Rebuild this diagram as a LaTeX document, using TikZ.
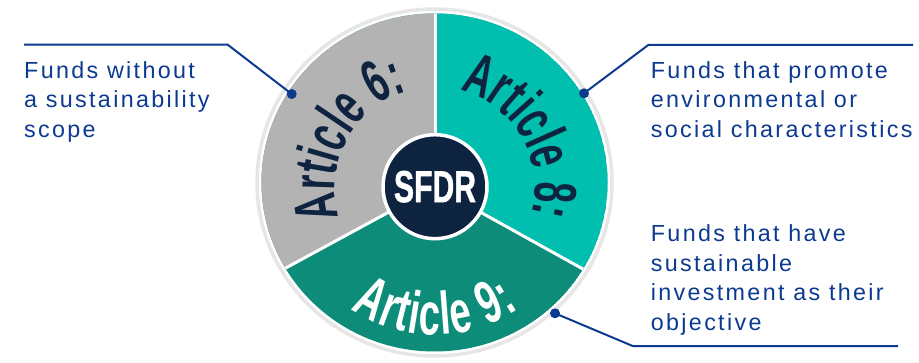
\documentclass[tikz,border=0pt]{standalone}
\usepackage{fontspec}
\newfontfamily\artfont{Liberation Sans}
\newfontfamily\sfdrfont[FakeStretch=0.67,FakeBold=1]{Liberation Sans}
\newfontfamily\callfont[LetterSpace=10]{Liberation Sans}
\definecolor{ringgray}{HTML}{E6E6E6}
\definecolor{segsix}{HTML}{B3B3B3}
\definecolor{segeight}{HTML}{00BFAE}
\definecolor{segnine}{HTML}{0D8C7A}
\definecolor{navy}{HTML}{0E2340}
\definecolor{callblue}{HTML}{0B3A8F}
\newcommand\artlab{\artfont\bfseries\fontsize{60}{60}\selectfont}
% letters of "Article N:" with centre positions (em/1000, Liberation Sans Bold advances)
% #1 digit, #2 radius, #3 centre angle, #4 direction, #5 colour, #6 xscale, #7 tracking (em/1000)
\newcommand\arcword[7]{%
  \foreach \ch/\pos/\idx in {A/361/0, r/916.5/1, t/1277.5/2, i/1583/3, c/2000/4,
      l/2417/5, e/2834/6, #1/3668/8, :/4112.5/9}{%
    \pgfmathsetmacro\arcphi{#3+(#4)*(\pos+\idx*#7-(4279+9*#7)/2)*0.06*#6/#2*57.29578}%
    \pgfmathsetmacro\arcrot{\arcphi+(#4)*90}%
    \node[font=\artlab, text=#5, anchor=base, inner sep=0pt, rotate=\arcrot, xscale=#6]
      at ([shift={(\arcphi:#2)}]pc) {\ch};
  }%
}
\begin{document}
\begin{tikzpicture}[x=1pt,y=1pt,
  divider/.style={white, line width=3pt},
  callline/.style={callblue, line width=2pt},
  calldot/.style={circle, fill=callblue, inner sep=0pt, minimum size=10pt},
  calltext/.style={anchor=base west, inner sep=0pt, align=left, text=callblue,
    font=\callfont\fontsize{23.3}{29.5}\selectfont}]
\useasboundingbox (0,0) rectangle (919,362);
\coordinate (pc) at (435,175);
\coordinate (ec) at (434.5,179.5);
% outer ring
\draw[ringgray, line width=3.5pt] (ec) ellipse [x radius=177.5, y radius=173.5];
% segments
\begin{scope}
  \clip (ec) ellipse [x radius=173, y radius=169];
  \fill[segnine] (ec) ellipse [x radius=173, y radius=169];
  \fill[segsix] (pc) -- ([shift={(90:400)}]pc) -- ([shift={(150:400)}]pc) -- ([shift={(208.5:400)}]pc) -- cycle;
  \fill[segeight] (pc) -- ([shift={(90:400)}]pc) -- ([shift={(30:400)}]pc) -- ([shift={(-29:400)}]pc) -- cycle;
  \draw[divider] (pc) -- ([shift={(90:250)}]pc);
  \draw[divider] (pc) -- ([shift={(208.5:250)}]pc);
  \draw[divider] (pc) -- ([shift={(-29:250)}]pc);
\end{scope}
% article labels
\arcword{6}{100}{152}{-1}{navy}{0.62}{0}
\arcword{8}{100}{30}{-1}{navy}{0.62}{0}
\arcword{9}{148}{270}{1}{white}{0.64}{40}
% centre
\node[circle, fill=navy, draw=white, line width=3.5pt, minimum size=104pt, inner sep=0pt,
  text=white, font=\sfdrfont\bfseries\fontsize{45}{45}\selectfont] (sfdr) at (435,175.3) {SFDR};
% callouts
\node[calldot] (d6) at (291.7,268) {};
\node[calldot] (d8) at (584,268.7) {};
\node[calldot] (d9) at (555,48.7) {};
\coordinate (a6) at (24,317.3);
\coordinate (b6) at (227.7,317.3);
\coordinate (a8) at (913,317);
\coordinate (b8) at (648.3,317);
\coordinate (a9) at (898,16);
\coordinate (b9) at (632.7,16);
\draw[callline] (a6) -- (b6) -- (d6.center);
\draw[callline] (a8) -- (b8) -- (d8.center);
\draw[callline] (a9) -- (b9) -- (d9.center);
\node[calltext] (t6) at (24,224.7) {Funds without\\a sustainability\\scope};
\node[calltext] (t8) at (650.7,224.7) {Funds that promote\\environmental or\\social characteristics};
\node[calltext] (t9) at (650.7,32) {Funds that have\\sustainable\\investment as their\\objective};
\end{tikzpicture}
\end{document}
